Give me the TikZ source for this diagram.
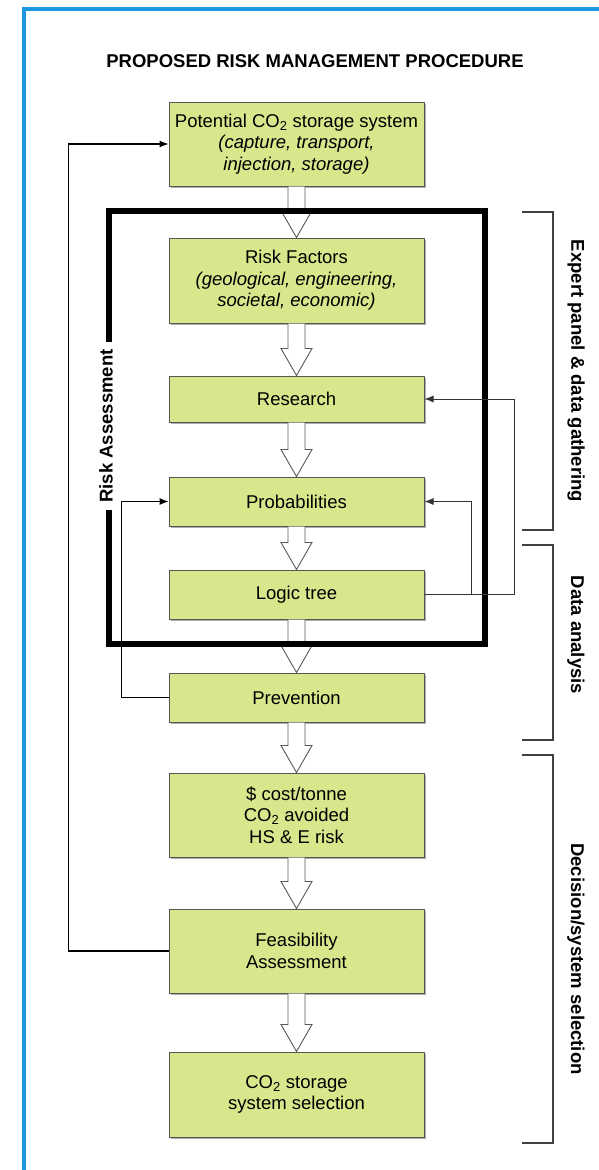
\documentclass[tikz,border=0pt]{standalone}
\usepackage{fontspec}
\setmainfont{Liberation Sans}
\usetikzlibrary{calc,arrows.meta,shadows}
\definecolor{boxfill}{RGB}{216,230,140}
\definecolor{frameblue}{RGB}{30,150,225}
\definecolor{boxline}{RGB}{85,85,85}
\begin{document}
\begin{tikzpicture}[x=1pt,y=-1pt,
  every node/.style={font=\fontsize{18.5}{21.5}\selectfont},
  stage/.style={draw=boxline, line width=1pt, fill=boxfill, minimum width=255pt, inner sep=0pt, align=center,
    drop shadow={shadow xshift=1.5pt, shadow yshift=-1.5pt, fill=black!45, opacity=0.7}},
  hollowarr/.style={draw=black!65, line width=0.9pt, fill=white, line join=miter},
  fb/.style={draw=black, line width=1.1pt, -{Latex[length=9pt,width=7pt]}},
  fbthin/.style={draw=black!80, line width=0.9pt, -{Latex[length=9pt,width=7pt]}},
  bracket/.style={draw=black!75, line width=1.6pt},
  sidelabel/.style={font=\fontsize{18.5}{21.5}\selectfont\bfseries},
  raframe/.style={draw=black, line width=6pt},
]
\useasboundingbox (0,0) rectangle (599,1170);
\fill[white] (0,0) rectangle (599,1170);
% blue page frame
\draw[frameblue, line width=4pt] (24,1180) -- (24,8.5) -- (610,8.5);

% title
\node[font=\fontsize{18.5}{22}\selectfont\bfseries] (title) at (315,61) {PROPOSED RISK MANAGEMENT PROCEDURE};

% stages
\node[stage, minimum height=84pt] (pot) at (296.5,144) {Potential CO\textsubscript{2} storage system\\\textit{(capture, transport,}\\\textit{injection, storage)}};
\node[stage, minimum height=85pt] (rf) at (296.5,280.5) {Risk Factors\\\textit{(geological, engineering,}\\\textit{societal, economic)}};
\node[stage, minimum height=46pt] (res) at (296.5,399) {Research};
\node[stage, minimum height=49pt] (prob) at (296.5,501.5) {Probabilities};
\node[stage, minimum height=49pt] (lt) at (296.5,594.5) {Logic tree};
\node[stage, minimum height=49pt] (prev) at (296.5,697.5) {Prevention};
\node[stage, minimum height=84pt] (cost) at (296.5,815) {\$ cost/tonne\\CO\textsubscript{2} avoided\\HS \& E risk};
\node[stage, minimum height=84pt] (feas) at (296.5,951) {Feasibility\\Assessment};
\node[stage, minimum height=85pt] (sel) at (296.5,1094.5) {CO\textsubscript{2} storage\\system selection};

% hollow block arrows
\foreach \a/\b in {pot/rf,rf/res,res/prob,prob/lt,lt/prev,prev/cost,cost/feas,feas/sel}{
  \draw[hollowarr] let \p1=(\a.south), \p2=(\b.north) in
    (\x1-8.5pt,\y1) -- (\x1-8.5pt,\y2+27pt) -- (\x1-15.5pt,\y2+27pt) -- (\x2,\y2)
    -- (\x1+15.5pt,\y2+27pt) -- (\x1+8.5pt,\y2+27pt) -- (\x1+8.5pt,\y1);
}

% risk assessment frame
\coordinate (fa) at (109,342);
\coordinate (fb) at (109,211);
\coordinate (fc) at (485,211);
\coordinate (fd) at (485,644);
\coordinate (fe) at (109,644);
\coordinate (ff) at (109,510);
\draw[raframe] (fa) -- (fb) -- (fc) -- (fd) -- (fe) -- (ff);
\node[sidelabel, rotate=90] (ra) at (106,426) {Risk Assessment};

% feedback connectors
\draw[fb] (feas.west) -- ++(-100,0) |- (pot.west);
\draw[fb] (prev.west) -- ++(-47,0) |- (prob.west);
\draw[fbthin] (lt.east) -- ++(47,0) |- (prob.east);
\draw[fbthin] (lt.east) -- ++(90,0) |- (res.east);

% brackets
\draw[bracket] (522,212) -- (553,212) -- (553,530) -- (522,530);
\draw[bracket] (522,545) -- (553,545) -- (553,740) -- (522,740);
\draw[bracket] (522,755) -- (553,755) -- (553,1143) -- (522,1143);
\node[sidelabel, rotate=-90] (l1) at (576,371) {Expert panel \& data gathering};
\node[sidelabel, rotate=-90] (l2) at (576,635) {Data analysis};
\node[sidelabel, rotate=-90] (l3) at (576,959) {Decision/system selection};
\end{tikzpicture}
\end{document}
